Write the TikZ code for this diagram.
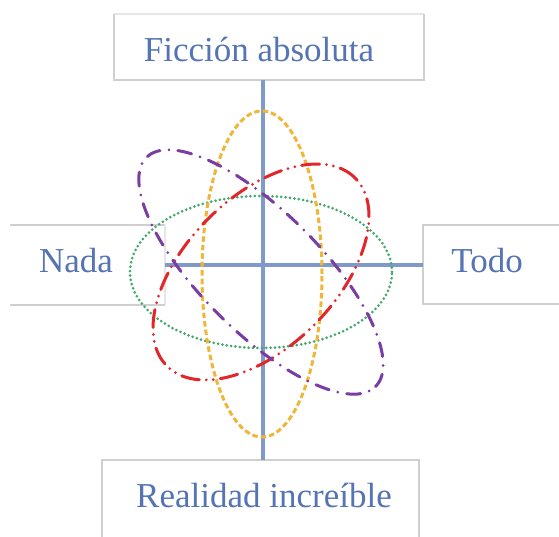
\documentclass[tikz,border=0pt]{standalone}
\usepackage{fontspec}
\setmainfont{Liberation Serif}
\definecolor{txtblue}{HTML}{5574B4}
\definecolor{axisblue}{HTML}{7F99C9}
\definecolor{boxgray}{HTML}{CFCFCF}
\definecolor{boxlight}{HTML}{E6E6E6}
\definecolor{ygold}{HTML}{F0B638}
\definecolor{egreen}{HTML}{45A86E}
\definecolor{ered}{HTML}{E2262C}
\definecolor{epurple}{HTML}{7A3DA2}
\tikzset{
  lbl/.style={font=\fontsize{35}{40}\selectfont, text=txtblue, inner sep=0pt, anchor=base},
  boxline/.style={draw=boxgray, line width=1.3pt},
  axisline/.style={draw=axisblue, line width=3.4pt},
  ellbase/.style={line width=3pt, line cap=round},
}
\begin{document}
\begin{tikzpicture}[x=1pt,y=1pt]
\useasboundingbox (0,0) rectangle (559,537);
\fill[white] (0,0) rectangle (559,537);
% box corners
\coordinate (tbnw) at (114,523); \coordinate (tbse) at (424,457);
\coordinate (lbnw) at (10,312);  \coordinate (lbse) at (165,232);
\coordinate (rbnw) at (423,312); \coordinate (rbse) at (562,233);
\coordinate (bbnw) at (102,77);  \coordinate (bbse) at (419,-3);
% boxes
\draw[boxline, draw=boxlight] (tbnw) -- (tbnw -| tbse);
\draw[boxline] (tbnw -| tbse) -- (tbse) -- (tbse -| tbnw) -- (tbnw);
\draw[boxline] (lbnw) -- (lbnw -| lbse);
\draw[boxline, draw=boxlight] (lbnw -| lbse) -- (lbse);
\draw[boxline] (lbse) -- (lbse -| lbnw);
\draw[boxline] (rbnw -| rbse) -- (rbnw) -- (rbnw |- rbse) -- (rbse);
\draw[boxline] (bbnw |- bbse) -- (bbnw) -- (bbnw -| bbse) -- (bbse);
% labels
\node[lbl] (ficc) at (259,475) {Ficción absoluta};
\node[lbl] (nada) at (76,264) {Nada};
\node[lbl] (todo) at (487,264) {Todo};
\node[lbl] (real) at (264,29) {Realidad increíble};
% axes
\coordinate (o) at (263,272);
\draw[axisline] (o |- tbse) -- (o |- bbnw);
\draw[axisline] (o -| lbse) -- (o -| rbnw);
% ellipses
\coordinate (c) at (261,265);
\draw[ellbase, draw=egreen, dash pattern=on 0pt off 4.4pt] (c) ellipse [x radius=131, y radius=76];
\draw[ellbase, draw=ygold, dash pattern=on 5.5pt off 3pt, line cap=butt] (262,263) ellipse [x radius=60, y radius=163];
\draw[ellbase, draw=ered, dash pattern=on 18pt off 7pt on 0pt off 7pt on 0pt off 7pt] (c) ellipse [x radius=133, y radius=75, rotate=45];
\draw[ellbase, draw=epurple, dash pattern=on 14pt off 9pt on 0pt off 9pt] (c) ellipse [x radius=162, y radius=60, rotate=-45];
\end{tikzpicture}
\end{document}
